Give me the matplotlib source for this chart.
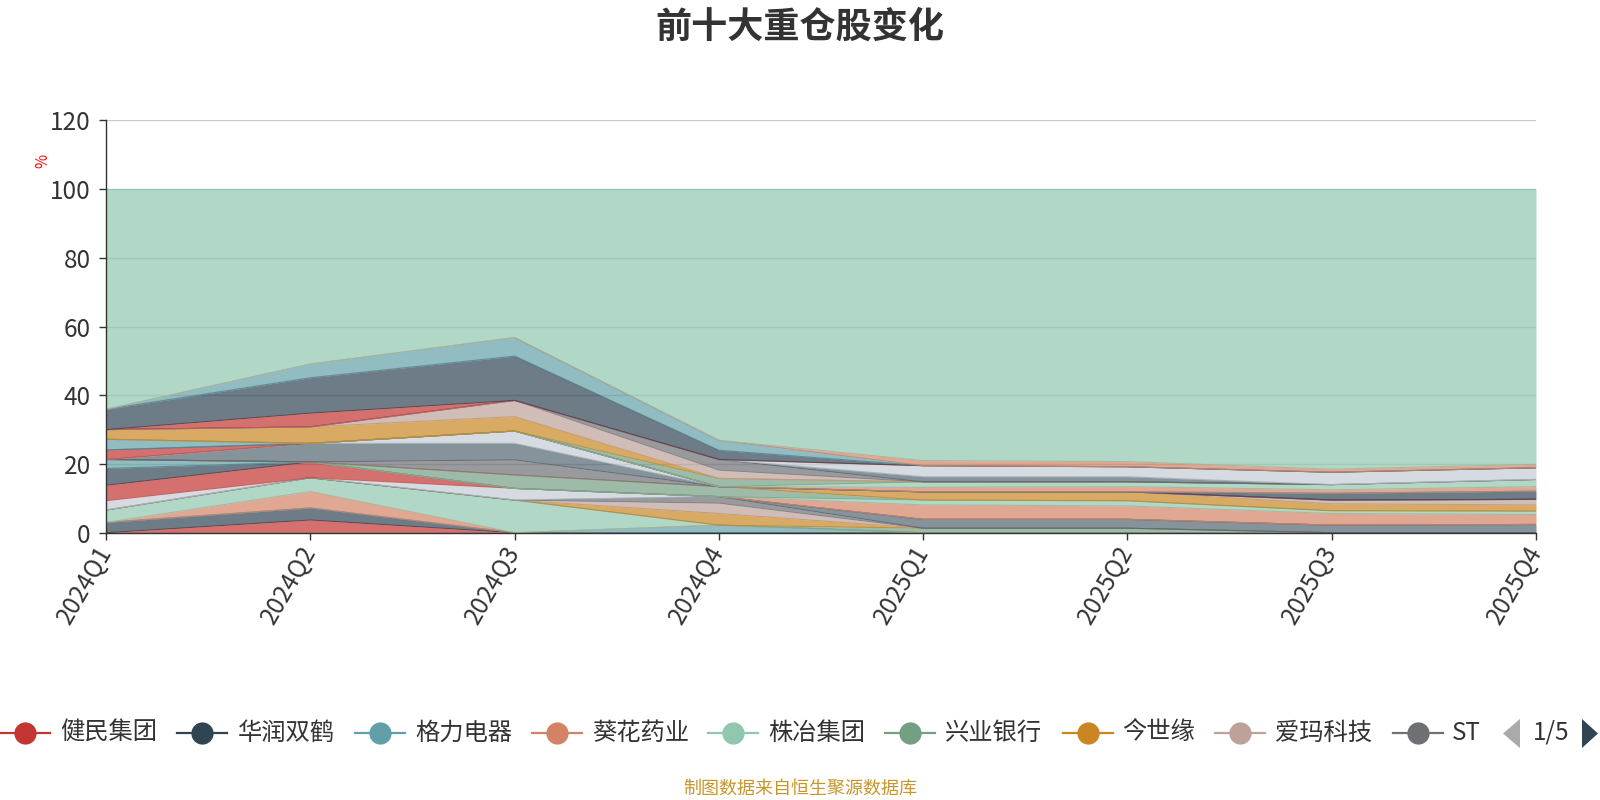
import matplotlib
matplotlib.use('Agg')
import matplotlib.pyplot as plt
import numpy as np
from matplotlib.lines import Line2D
from matplotlib.patches import Polygon
from matplotlib.transforms import Bbox

plt.rcParams['font.family'] = ['Noto Sans CJK SC', 'DejaVu Sans']

# ---------------- data ----------------
quarters = ['2024Q1', '2024Q2', '2024Q3', '2024Q4', '2025Q1', '2025Q2', '2025Q3', '2025Q4']

jianmin    = [0, 3.7, 0, 0, 0, 0, 0, 0]
huarun     = [3.0, 3.5, 0, 0, 0, 0, 0, 0]
geli       = [0, 0, 0, 2.2, 0, 0, 0, 0]
kuihua     = [0, 4.8, 0, 0, 0, 0, 0, 0]
zhuye      = [3.6, 4.0, 9.5, 0, 0, 0, 0, 0]
xingye     = [0, 0, 0, 0, 1.3, 1.3, 0, 0]
jinshiyuan = [0, 0, 0, 3.4, 0, 0, 0, 0]
aima       = [0, 0, 0, 3.0, 0, 0, 0, 0]
st_stock   = [0, 0, 0, 1.9, 0, 0, 0, 0]
s10 = [0, 0, 0, 0, 2.6, 2.6, 2.2, 2.4]
s11 = [2.7, 0, 3.4, 0, 0, 0, 0, 0]
s12 = [4.5, 4.6, 0, 0, 0, 0, 0, 0]
s13 = [4.9, 0, 0, 0, 0, 0, 0, 0]
s14 = [2.6, 0, 0, 0, 0, 0, 0, 0]
s15 = [0, 0, 0, 0, 4.2, 3.9, 3.4, 2.9]
s16 = [0, 0, 0, 0, 1.4, 1.5, 0.8, 1.0]
s17 = [0, 0, 3.9, 2.9, 0, 0, 0, 0]
s18 = [0, 0, 0, 0, 2.4, 2.6, 2.0, 1.8]
s19 = [0, 0, 0, 0, 0, 0, 1.1, 1.6]
s20 = [0, 0, 4.4, 0, 0, 0, 0, 0]
s21 = [0, 5.4, 4.8, 0, 0, 0, 0, 0]
s22 = [0, 0, 3.6, 0, 0, 0, 0, 0]
s23 = [2.8, 0, 0, 0, 0, 0, 0, 0]
s24 = [0, 0, 0, 0, 0, 0, 2.0, 2.4]
s25 = [3.1, 0, 0, 0, 0, 0, 0, 0]
s26 = [0, 0, 0, 0, 1.3, 1.5, 1.0, 1.3]
s27 = [0, 0, 0, 0, 1.6, 1.4, 1.5, 2.1]
s28 = [0, 0, 0, 2.4, 0, 0, 0, 0]
s29 = [2.8, 4.8, 4.2, 0, 0, 0, 0, 0]
s30 = [0, 0, 4.7, 2.4, 0, 0, 0, 0]
s31 = [0, 0, 0, 3.1, 0, 0, 0, 0]
s32 = [0, 0, 0, 0, 1.5, 1.5, 0, 0]
s33 = [0, 0, 0, 0, 3.2, 2.9, 3.6, 3.4]
s34 = [0, 4.0, 0, 0, 0, 0, 0, 0]
s35 = [5.9, 10.3, 12.9, 2.7, 0, 0, 0, 0]
s36 = [0, 4.0, 5.4, 2.9, 0, 0, 0, 0]
s37 = [0, 0, 0, 0, 1.5, 1.5, 0.9, 1.0]
other = [64.1, 50.9, 43.2, 73.1, 79.0, 79.3, 81.5, 80.1]

legend_names = ['健民集团', '华润双鹤', '格力电器', '葵花药业', '株冶集团',
                '兴业银行', '今世缘', '爱玛科技', 'ST…']

series = [jianmin, huarun, geli, kuihua, zhuye, xingye, jinshiyuan, aima, st_stock,
          s10, s11, s12, s13, s14, s15, s16, s17, s18, s19, s20, s21, s22, s23,
          s24, s25, s26, s27, s28, s29, s30, s31, s32, s33, s34, s35, s36, s37, other]

palette = ['#c23531', '#2f4554', '#61a0a8', '#d48265', '#91c7ae', '#749f83',
           '#ca8622', '#bda29a', '#6e7074', '#546570', '#c4ccd3']

# ---------------- figure ----------------
W, H = 1600, 800
fig = plt.figure(figsize=(16, 8), dpi=100)
fig.patch.set_facecolor('white')

def fx(px):
    return px / W

def fy(py):
    return 1 - py / H

ax = fig.add_axes([fx(106), fy(532.7), fx(1536) - fx(106), fy(120.4) - fy(532.7)])

x = np.arange(len(quarters))
base = np.zeros(len(quarters))
for i, vals in enumerate(series):
    c = palette[i % len(palette)]
    top = base + np.array(vals, dtype=float)
    ax.fill_between(x, base, top, color=c, alpha=0.7, lw=0, zorder=2)
    ax.plot(x, top, color=c, lw=0.8, alpha=0.8, zorder=2)
    base = top

ax.set_xlim(0, len(quarters) - 1)
ax.set_ylim(0, 120)
ax.set_yticks(range(0, 121, 20))
ax.yaxis.grid(True, color='#cccccc', lw=1)
ax.set_axisbelow(True)
for s in ['top', 'right']:
    ax.spines[s].set_visible(False)
for s in ['left', 'bottom']:
    ax.spines[s].set_color('#333333')
    ax.spines[s].set_linewidth(1)
    ax.spines[s].set_zorder(5)

ax.tick_params(axis='y', direction='out', length=5, width=1, color='#333333',
               labelsize=17.5, labelcolor='#333333', pad=6)
ax.tick_params(axis='x', direction='out', length=5, width=1, color='#333333',
               labelsize=17.5, labelcolor='#333333', pad=6)
ax.set_xticks(x)
ax.set_xticklabels(quarters, rotation=60, ha='right', va='center', rotation_mode='anchor')

# y axis name
fig.text(fx(43), fy(161), '%', color='red', rotation=90, fontsize=11,
         ha='center', va='center')

# title
fig.text(0.5, fy(27), '前十大重仓股变化', fontsize=26, fontweight='bold',
         color='#333333', ha='center', va='center')

# ---------------- legend ----------------
ly = fy(733)
marker_x = [25, 202, 380, 557, 733, 910, 1088, 1240, 1418]
text_x = [60, 238, 415, 592, 768, 945, 1122, 1275, 1452]
for i, name in enumerate(legend_names):
    c = palette[i % len(palette)]
    m = marker_x[i]
    fig.add_artist(Line2D([fx(m - 25), fx(m + 25)], [ly, ly], transform=fig.transFigure,
                          color=c, lw=1.6))
    fig.add_artist(Line2D([fx(m)], [ly], transform=fig.transFigure, marker='o',
                          markersize=16, color=c, markeredgewidth=0))
    t = fig.text(fx(text_x[i]), ly, name, fontsize=17.5, color='#333333',
                 ha='left', va='center')
    if i == len(legend_names) - 1:
        t.set_clip_box(Bbox.from_extents(0, 0, 1482, 800))
        t.set_clip_on(True)

# page controls
fig.add_artist(Polygon([[fx(1503), fy(733.5)], [fx(1520), fy(719)], [fx(1520), fy(748)]],
                       closed=True, transform=fig.transFigure, color='#aaaaaa', lw=0))
fig.add_artist(Polygon([[fx(1598), fy(733.5)], [fx(1582), fy(719)], [fx(1582), fy(748)]],
                       closed=True, transform=fig.transFigure, color='#2f4554', lw=0))
fig.text(fx(1551), ly, '1/5', fontsize=17.5, color='#333333', ha='center', va='center')

# footer
fig.text(0.5, fy(789), '制图数据来自恒生聚源数据库', fontsize=13, color='#c9952b',
         ha='center', va='center')

fig.savefig('out.png', dpi=100, facecolor='white')
